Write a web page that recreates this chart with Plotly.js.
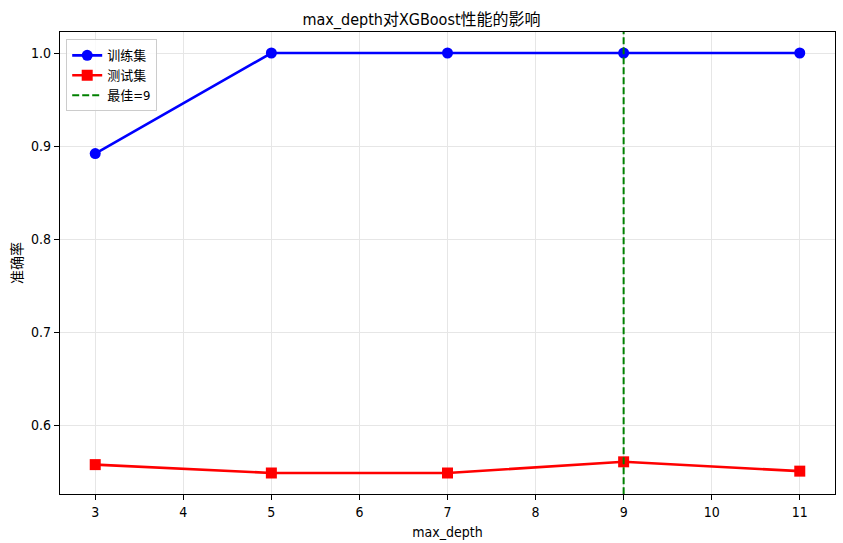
<!DOCTYPE html>
<html><head><meta charset="utf-8">
<script src="https://cdn.plot.ly/plotly-3.0.1.min.js"></script>
<style>html,body{margin:0;padding:0;background:#fff}#chart{width:843px;height:543px}</style>
</head><body><div id="chart"></div>
<script>
const depths = [3, 5, 7, 9, 11];
const trainAcc = [0.892, 1.0, 1.0, 1.0, 1.0];
const testAcc = [0.558, 0.549, 0.549, 0.561, 0.551];
const bestDepth = 9;
const xTicks = [3, 4, 5, 6, 7, 8, 9, 10, 11];
const yTicks = [0.6, 0.7, 0.8, 0.9, 1.0];

const FONT = '"Liberation Sans Narrow", "DejaVu Sans Condensed", "Noto Sans CJK SC", sans-serif';
const allY = trainAcc.concat(testAcc);
const yMin = Math.min(...allY), yMax = Math.max(...allY);
const yPad = (yMax - yMin) * 0.05;
const xMin = Math.min(...depths), xMax = Math.max(...depths);
const xPad = (xMax - xMin) * 0.05;

const traces = [
  {x: depths, y: trainAcc, name: '训练集', mode: 'lines+markers', type: 'scatter',
   line: {color: '#0000ff', width: 2.6}, marker: {symbol: 'circle', size: 11, color: '#0000ff'}},
  {x: depths, y: testAcc, name: '测试集', mode: 'lines+markers', type: 'scatter',
   line: {color: '#ff0000', width: 2.6}, marker: {symbol: 'square', size: 11, color: '#ff0000'}},
  {x: [bestDepth, bestDepth], y: [0, 2], name: '最佳=' + bestDepth, mode: 'lines', type: 'scatter',
   line: {color: '#008000', width: 2, dash: '7px,3px'}}
];

const axisCommon = {
  showline: true, linecolor: '#000', linewidth: 1.2, mirror: true,
  ticks: 'outside', ticklen: 5, tickcolor: '#000', tickwidth: 1,
  showgrid: true, gridcolor: '#e6e6e6', gridwidth: 1, zeroline: false,
  tickfont: {family: FONT, size: 14, color: '#000'}
};

const layout = {
  width: 843, height: 543,
  paper_bgcolor: '#fff', plot_bgcolor: '#fff',
  margin: {l: 60, r: 8, t: 32, b: 49},
  title: {text: 'max_depth对XGBoost性能的影响', font: {family: FONT, size: 16, color: '#000'},
          x: 0.5, xanchor: 'center', y: 1, yref: 'paper', yanchor: 'bottom', pad: {b: 7}},
  xaxis: Object.assign({}, axisCommon, {
    range: [xMin - xPad, xMax + xPad], tickvals: xTicks, ticktext: xTicks.map(String),
    title: {text: 'max_depth', font: {family: FONT, size: 14, color: '#000'}, standoff: 8}
  }),
  yaxis: Object.assign({}, axisCommon, {
    range: [yMin - yPad, yMax + yPad], tickvals: yTicks, ticktext: yTicks.map(v => v.toFixed(1)),
    title: {text: '准确率', font: {family: FONT, size: 14, color: '#000'}, standoff: 5}
  }),
  showlegend: true,
  legend: {x: 0.008, y: 0.984, xanchor: 'left', yanchor: 'top',
           bgcolor: 'rgba(255,255,255,0.8)', bordercolor: '#cccccc', borderwidth: 1,
           font: {family: FONT, size: 13, color: '#000'}, tracegroupgap: 0, itemwidth: 30}
};

Plotly.newPlot('chart', traces, layout, {displayModeBar: false, staticPlot: true});
</script></body></html>
